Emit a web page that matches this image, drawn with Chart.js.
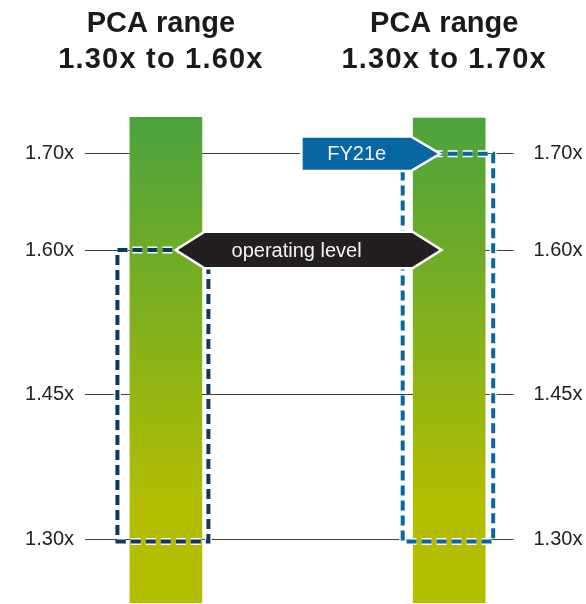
<!DOCTYPE html>
<html>
<head>
<meta charset="utf-8">
<script src="https://cdn.jsdelivr.net/npm/chart.js@4"></script>
<style>
  html, body { margin: 0; padding: 0; background: #fff; }
  #wrap { width: 586px; height: 604px; }
</style>
</head>
<body>
<div id="wrap"><canvas id="chart" width="586" height="604"></canvas></div>
<script>
/* ── Datos ─────────────────────────────────────────── */
const titleTop    = ['PCA range', 'PCA range'];
const titleBottom = ['1.30x to 1.60x', '1.30x to 1.70x'];
const barSlots    = [1, 2];
const barLow      = [1.234, 1.234];
const barHigh     = [1.738, 1.737];
const rangeLow    = [1.30, 1.30];
const rangeHigh   = [1.60, 1.70];
const tickValues  = [1.30, 1.45, 1.60, 1.70];
const markerText  = ['operating level', 'FY21e'];
const markerValue = [1.60, 1.70];

const FONT = "'Liberation Sans', Arial, sans-serif";

/* ── Rectángulos punteados, flechas y títulos ───────── */
const overlay = {
  id: 'overlay',
  afterDatasetsDraw(chart) {
    const { ctx, scales: { x, y } } = chart;
    const offs = [[-48.5, 42.5], [-46.5, 44]];
    const cols = ['#0b3a5c', '#0866a3'];
    ctx.save();
    barSlots.forEach((s, i) => {
      const cx = x.getPixelForValue(s);
      const l = cx + offs[i][0], r = cx + offs[i][1];
      const t = y.getPixelForValue(rangeHigh[i]);
      const b = y.getPixelForValue(rangeLow[i]) + 2;
      ctx.setLineDash([10, 5]);
      ctx.lineWidth = 7; ctx.strokeStyle = '#fff';
      ctx.strokeRect(l, t, r - l, b - t);
      ctx.lineWidth = 4; ctx.strokeStyle = cols[i];
      ctx.strokeRect(l, t, r - l, b - t);
    });
    ctx.restore();
  },
  afterDraw(chart) {
    const { ctx, scales: { x, y } } = chart;
    ctx.save();
    ctx.setLineDash([]);

    // operating level (doble punta)
    const yo = y.getPixelForValue(markerValue[0]);
    const lt = x.getPixelForValue(barSlots[0]) + 12;
    const rt = x.getPixelForValue(barSlots[1]) - 10;
    const hh = 17, dp = 27;
    ctx.beginPath();
    ctx.moveTo(lt, yo); ctx.lineTo(lt + dp, yo - hh); ctx.lineTo(rt - dp, yo - hh);
    ctx.lineTo(rt, yo); ctx.lineTo(rt - dp, yo + hh); ctx.lineTo(lt + dp, yo + hh);
    ctx.closePath();
    ctx.lineWidth = 5; ctx.strokeStyle = '#fff'; ctx.lineJoin = 'miter';
    ctx.stroke();
    ctx.fillStyle = '#231f20'; ctx.fill();
    ctx.fillStyle = '#f4f4f4';
    ctx.font = `20px ${FONT}`;
    ctx.textAlign = 'center'; ctx.textBaseline = 'middle';
    ctx.fillText(markerText[0], (lt + rt) / 2 - 12, yo + 1);

    // FY21e
    const yf = y.getPixelForValue(markerValue[1]);
    const tip = x.getPixelForValue(barSlots[1]) - 11.5;
    const left = tip - 135, fh = 16;
    ctx.beginPath();
    ctx.moveTo(left, yf - fh); ctx.lineTo(tip - dp, yf - fh); ctx.lineTo(tip, yf);
    ctx.lineTo(tip - dp, yf + fh); ctx.lineTo(left, yf + fh);
    ctx.closePath();
    ctx.lineWidth = 5; ctx.strokeStyle = '#fff';
    ctx.stroke();
    ctx.fillStyle = '#0866a3'; ctx.fill();
    ctx.fillStyle = '#f4f4f4';
    ctx.fillText(markerText[1], (left + tip - dp) / 2, yf + 1);

    // títulos
    ctx.fillStyle = '#1a1a1a';
    ctx.textBaseline = 'alphabetic';
    barSlots.forEach((s, i) => {
      const cx = x.getPixelForValue(s) - 5;
      ctx.font = `bold 29px ${FONT}`;
      ctx.letterSpacing = '0px';
      ctx.fillText(titleTop[i], cx, 32);
      ctx.letterSpacing = '1.2px';
      ctx.fillText(titleBottom[i], cx, 68);
    });
    ctx.restore();
  }
};

function barGradient(c) {
  const chart = c.chart, a = chart.chartArea;
  if (!a) return '#7fb02a';
  const g = chart.ctx.createLinearGradient(0, a.top, 0, a.top + (a.bottom - a.top) * 0.81);
  g.addColorStop(0, '#4ba23d');
  g.addColorStop(1, '#b4be00');
  return g;
}

const tickOpts = pad => ({
  padding: pad, color: '#222', font: { family: FONT, size: 20 },
  callback: v => Number(v).toFixed(2) + 'x'
});

new Chart(document.getElementById('chart'), {
  type: 'bar',
  data: {
    datasets: [{
      data: barSlots.map((s, i) => ({ x: s, y: [barLow[i], barHigh[i]] })),
      backgroundColor: barGradient,
      borderWidth: 0,
      barThickness: 72
    }]
  },
  options: {
    responsive: false, animation: false,
    layout: { padding: { top: 117, bottom: 1, left: 0, right: 0 } },
    plugins: { legend: { display: false }, tooltip: { enabled: false } },
    scales: {
      x: { type: 'linear', min: 0.7144, max: 2.227, offset: false, display: false },
      y: {
        type: 'linear', position: 'left', min: 1.2342, max: 1.738,
        afterBuildTicks: s => { s.ticks = tickValues.map(v => ({ value: v })); },
        afterFit: s => { s.width = 85; s.paddingTop = 0; s.paddingBottom = 0; },
        grid: { color: '#404040', lineWidth: 1, drawTicks: false },
        border: { display: false },
        ticks: tickOpts(11)
      },
      y2: {
        type: 'linear', position: 'right', min: 1.2342, max: 1.738,
        afterBuildTicks: s => { s.ticks = tickValues.map(v => ({ value: v })); },
        afterFit: s => { s.width = 72.5; s.paddingTop = 0; s.paddingBottom = 0; },
        grid: { display: false },
        border: { display: false },
        ticks: tickOpts(12)
      }
    }
  },
  plugins: [overlay]
});
</script>
</body>
</html>
